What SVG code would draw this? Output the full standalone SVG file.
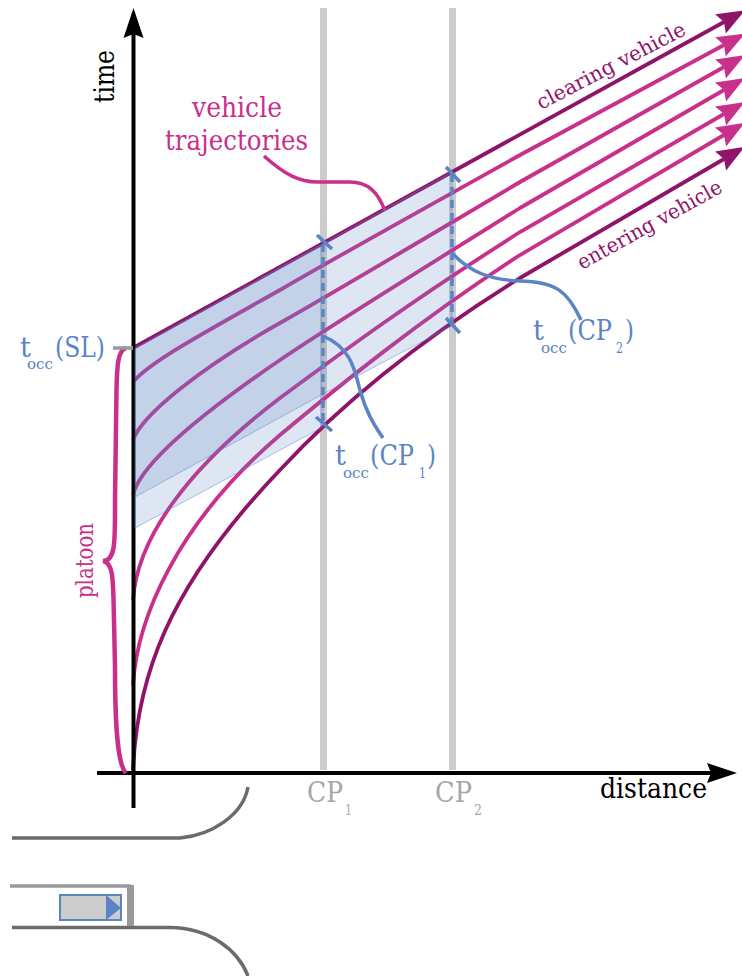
<svg xmlns="http://www.w3.org/2000/svg" width="742" height="976" viewBox="0 0 742 976">
<style>
text{font-family:"DejaVu Serif","Liberation Serif",serif;font-weight:400}
.k{fill:#000}.m{fill:#c8308c}.d{fill:#8f1469}.b{fill:#5b84c4}.g{fill:#a6a6a6}
.f26{font-size:27px}.f13{font-size:15px}.f20{font-size:20.500px}
.cp{stroke:#ccc;stroke-width:7;fill:none}
.tr{fill:none;stroke-width:3.800;stroke:#c8308c}
.trd{fill:none;stroke-width:3.800;stroke:#8f1469}
.ax{stroke:#000;stroke-width:4;fill:none}
.bl{stroke:#5b84c4;fill:none;stroke-width:3.500}
.rd{stroke:#6b6b6b;fill:none;stroke-width:3.500}
.sl{stroke:#999;fill:none}
</style>
<defs>
<marker id="hm" markerUnits="userSpaceOnUse" markerWidth="32" markerHeight="26" viewBox="-2 -12 32 24" refX="3" refY="0" orient="auto"><path d="M-1,-11 L27,0 L-1,11 L3,0 Z" fill="#c8308c"/></marker>
<marker id="hd" markerUnits="userSpaceOnUse" markerWidth="32" markerHeight="26" viewBox="-2 -12 32 24" refX="3" refY="0" orient="auto"><path d="M-1,-11 L27,0 L-1,11 L3,0 Z" fill="#8f1469"/></marker>
<marker id="hk" markerUnits="userSpaceOnUse" markerWidth="34" markerHeight="26" viewBox="-2 -12 34 24" refX="3" refY="0" orient="auto"><path d="M-1,-10 L29,0 L-1,10 L3,0 Z" fill="#000"/></marker>
</defs>
<g id="cp1-bar"><path class="cp" d="M323.5,8V770"/></g>
<g id="cp2-bar"><path class="cp" d="M452.5,8V770"/></g>
<g id="connectors">
<path class="tr" marker-end="url(#hm)" d="M133,382C150,362 200,335 280,290C340,255 400,222 520,155L724,45"/>
<path class="tr" marker-end="url(#hm)" d="M133,440C142,415 200,368 280,323C340,289 400,253 520,182L724,67"/>
<path class="tr" marker-end="url(#hm)" d="M133,495C140,465 195,418 280,360C330,326 400,283 520,208L724,90"/>
<path class="tr" marker-end="url(#hm)" d="M133,600C137,540 185,470 280,398C345,350 410,302 520,232L724,114"/>
<path class="tr" marker-end="url(#hm)" d="M133,685C137,620 175,525 280,435C340,385 420,320 520,255L724,135"/>
<path class="trd" marker-end="url(#hd)" d="M133,770C137,680 165,590 280,470C340,405 420,340 520,278L724,159"/>
<path class="trd" marker-end="url(#hd)" d="M133,348L724,22"/>
<path class="ax" marker-end="url(#hk)" d="M133.5,808V34"/>
<path class="ax" marker-end="url(#hk)" d="M97,773H711"/>
<path d="M264,156C285,175 300,182 317,182H350C368,182 378,192 385,211" fill="none" stroke="#c8308c" stroke-width="3.500"/>
<path d="M126,348C118,350 117,365 116.500,390L115,500C115,540 116,561 103,561C114,563 113,580 114,620L115,667C115,730 118,765 126,773" fill="none" stroke="#c8308c" stroke-width="4.500"/>
<path class="sl" stroke-width="3.500" d="M113,348H133"/>
</g>
<g id="occupancy-band">
<path d="M135,348L452,172V326L323,394V427L135,528Z" fill="#5b84c4" fill-opacity=".2" stroke="#5b84c4" stroke-opacity=".6" stroke-width=".8"/>
<path d="M135,348L323,243V394L135,497Z" fill="#5b84c4" fill-opacity=".2" stroke="none"/>
<path d="M135,497L323,394" fill="none" stroke="#5b84c4" stroke-opacity=".6" stroke-width=".8"/>
</g>
<g id="cp-markers">
<path class="bl" stroke-dasharray="8 5" d="M323,244V424"/>
<path class="bl" stroke-dasharray="8 5" d="M452,174V326"/>
<path class="bl" d="M317,235L332,249M316,417L332,431M446,167L460,182M446,318L460,333"/>
<path class="bl" d="M323,336C352,348 355,372 360,390C366,412 374,425 383,438"/>
<path class="bl" d="M452,253C470,272 490,280 520,281C555,282 567,290 581,320"/>
</g>
<g id="label-time"><text class="k f26" transform="translate(114,103) rotate(-90)" textLength="53" lengthAdjust="spacingAndGlyphs">time</text></g>
<g id="label-distance"><text class="k f26" x="600" y="798" textLength="107" lengthAdjust="spacingAndGlyphs">distance</text></g>
<g id="label-trajectories">
<text class="m f26" x="192" y="117" textLength="90" lengthAdjust="spacingAndGlyphs">vehicle</text>
<text class="m f26" x="165" y="150" textLength="143" lengthAdjust="spacingAndGlyphs">trajectories</text>
</g>
<g id="label-clearing"><text class="d f20" transform="translate(541,110) rotate(-27.500)" textLength="165" lengthAdjust="spacingAndGlyphs">clearing vehicle</text></g>
<g id="label-entering"><text class="d f20" transform="translate(582,270) rotate(-29)" textLength="162" lengthAdjust="spacingAndGlyphs">entering vehicle</text></g>
<g id="label-platoon"><text class="m" style="font-size:24px" transform="translate(93,598) rotate(-90)" textLength="75" lengthAdjust="spacingAndGlyphs">platoon</text></g>
<g id="label-cp1"><text class="g f26" x="307" y="802" textLength="36" lengthAdjust="spacingAndGlyphs">CP</text><text class="g f13" x="345" y="815" textLength="7" lengthAdjust="spacingAndGlyphs">1</text></g>
<g id="label-cp2"><text class="g f26" x="435" y="802" textLength="37" lengthAdjust="spacingAndGlyphs">CP</text><text class="g f13" x="474" y="815" textLength="8" lengthAdjust="spacingAndGlyphs">2</text></g>
<g id="label-tocc-sl"><text class="b f26" x="20" y="357">t</text><text class="b f13" x="27" y="369" textLength="26" lengthAdjust="spacingAndGlyphs">occ</text><text class="b f26" x="55" y="357" textLength="50" lengthAdjust="spacingAndGlyphs">(SL)</text></g>
<g id="label-tocc-cp1"><text class="b f26" x="335" y="465">t</text><text class="b f13" x="343" y="478" textLength="26" lengthAdjust="spacingAndGlyphs">occ</text><text class="b f26" x="370" y="465" textLength="44" lengthAdjust="spacingAndGlyphs">(CP</text><text class="b f13" x="419" y="478" textLength="7" lengthAdjust="spacingAndGlyphs">1</text><text class="b f26" x="427" y="465" textLength="9" lengthAdjust="spacingAndGlyphs">)</text></g>
<g id="label-tocc-cp2"><text class="b f26" x="533" y="340">t</text><text class="b f13" x="541" y="353" textLength="26" lengthAdjust="spacingAndGlyphs">occ</text><text class="b f26" x="568" y="340" textLength="44" lengthAdjust="spacingAndGlyphs">(CP</text><text class="b f13" x="616" y="353" textLength="7" lengthAdjust="spacingAndGlyphs">2</text><text class="b f26" x="625" y="340" textLength="9" lengthAdjust="spacingAndGlyphs">)</text></g>
<g id="road">
<path class="rd" d="M12,838H180C212,835 243,815 248,787"/>
<path class="rd" d="M12,927.500H170C210,928 238,950 248,976"/>
<path class="sl" stroke-width="3.500" d="M10,886H131"/>
<path class="sl" stroke-width="7" d="M130.500,885V926"/>
</g>
<g id="vehicle">
<rect x="60" y="895" width="61" height="25" fill="#ccc" stroke="#5b84c4" stroke-width="2"/>
<path d="M106,895L121,908L106,920Z" fill="#5b84c4"/>
</g>
</svg>
